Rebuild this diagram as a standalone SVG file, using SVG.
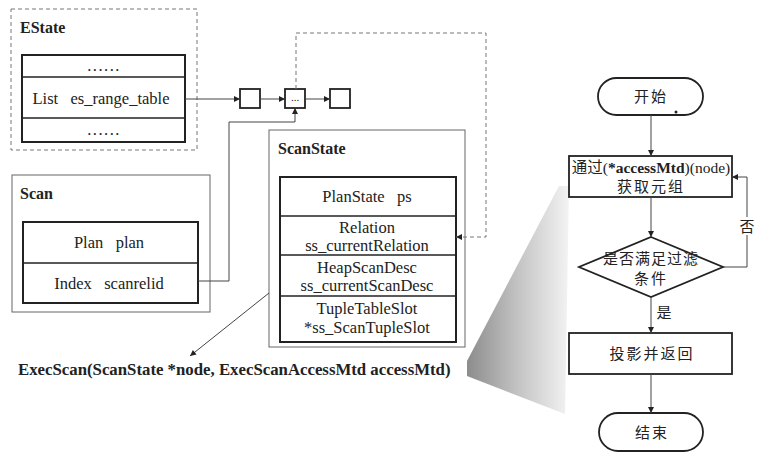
<svg xmlns="http://www.w3.org/2000/svg" width="758" height="461" viewBox="0 0 758 461">
<defs>
<marker id="arr" viewBox="0 0 10 10" refX="10" refY="5" markerWidth="8" markerHeight="6" markerUnits="userSpaceOnUse" orient="auto"><path d="M0,0 L10,5 L0,10 z" fill="#222"/></marker>
<linearGradient id="wedge" x1="467" y1="0" x2="570" y2="0" gradientUnits="userSpaceOnUse">
<stop offset="0" stop-color="#8c8c8c"/><stop offset="0.5" stop-color="#c4c4c4"/><stop offset="1" stop-color="#f4f4f4"/></linearGradient>
<style>
text{font-family:"Liberation Serif","Noto Sans CJK SC",serif;fill:#222;white-space:pre;}
.t{font-size:16.5px;text-anchor:middle;}
.dots{font-size:16.5px;text-anchor:middle;letter-spacing:1.5px;}
.h{font-size:16px;font-weight:bold;}
.c{font-size:15px;text-anchor:middle;letter-spacing:2px;}
.tbl{fill:none;stroke:#222;stroke-width:2;}
.row{stroke:#222;stroke-width:1.5;}
.outer{fill:#fff;stroke:#666;stroke-width:1;}
.dash{fill:none;stroke:#777;stroke-width:1;stroke-dasharray:4,3;}
.ln{fill:none;stroke:#444;stroke-width:1;}
.fb{fill:#fff;stroke:#222;stroke-width:1.8;}
</style>
</defs>
<rect width="758" height="461" fill="#fff"/>
<polygon points="559,186 467,361 467,376 565,414 569,186" fill="url(#wedge)"/>

<g id="estate">
<rect x="11" y="9" width="186" height="141" class="dash"/>
<text x="20" y="33" class="h">EState</text>
<rect x="22" y="55" width="163" height="87" class="tbl"/>
<line x1="22" y1="77" x2="185" y2="77" class="row"/>
<line x1="22" y1="118" x2="185" y2="118" class="row"/>
<text x="104" y="71" class="dots">......</text>
<text x="101" y="104" class="t">List   es_range_table</text>
<text x="104" y="135" class="dots">......</text>
</g>

<g id="list1"><rect x="240" y="89" width="20" height="19" fill="#fff" stroke="#222" stroke-width="1.8"/></g>
<g id="list2"><rect x="285" y="89" width="20" height="19" fill="#fff" stroke="#222" stroke-width="1.8"/><text x="295" y="101" class="t" style="font-size:11px">...</text></g>
<g id="list3"><rect x="330" y="89" width="20" height="19" fill="#fff" stroke="#222" stroke-width="1.8"/></g>

<g id="scan">
<rect x="12" y="175" width="198" height="137" class="outer"/>
<text x="20" y="199" class="h">Scan</text>
<rect x="23" y="222" width="175" height="81" class="tbl"/>
<line x1="23" y1="263" x2="198" y2="263" class="row"/>
<text x="109" y="248" class="t">Plan   plan</text>
<text x="109" y="289" class="t">Index   scanrelid</text>
</g>

<g id="scanstate">
<rect x="269" y="130" width="196" height="217" class="outer"/>
<text x="278" y="154" class="h">ScanState</text>
<rect x="280" y="177" width="176" height="165" class="tbl"/>
<line x1="280" y1="216" x2="456" y2="216" class="row"/>
<line x1="280" y1="255" x2="456" y2="255" class="row"/>
<line x1="280" y1="296" x2="456" y2="296" class="row"/>
<text x="367" y="202" class="t">PlanState   ps</text>
<text x="367" y="233" class="t">Relation</text>
<text x="367" y="251" class="t">ss_currentRelation</text>
<text x="367" y="273" class="t">HeapScanDesc</text>
<text x="367" y="291" class="t">ss_currentScanDesc</text>
<text x="367" y="314" class="t">TupleTableSlot</text>
<text x="367" y="333" class="t">*ss_ScanTupleSlot</text>
</g>

<g id="execscan">
<text x="18" y="375" style="font-size:16.8px;font-weight:bold">ExecScan(ScanState *node, ExecScanAccessMtd accessMtd)</text>
</g>

<g id="start">
<rect x="598" y="78" width="105" height="37" rx="18.5" class="fb"/>
<text x="651" y="102" class="c">开始</text>
<circle cx="676" cy="112" r="1.5" fill="#222"/>
</g>
<g id="fetch">
<rect x="569" y="156" width="163" height="41" class="fb"/>
<text x="651" y="173" style="font-size:15.5px;text-anchor:middle">通过(<tspan font-weight="bold">*accessMtd</tspan>)(node)</text>
<text x="651" y="192" class="c">获取元组</text>
</g>
<g id="filter">
<polygon points="651,237 723,267 651,297 579,267" class="fb"/>
<text x="651" y="264" class="c" style="letter-spacing:1px">是否满足过滤</text>
<text x="651" y="284" class="c">条件</text>
</g>
<g id="project">
<rect x="569" y="333" width="163" height="41" class="fb"/>
<text x="652" y="359" class="c">投影并返回</text>
</g>
<g id="end">
<rect x="599" y="413" width="104" height="38" rx="19" class="fb"/>
<text x="652" y="438" class="c">结束</text>
</g>

<g id="connectors">
<line x1="185" y1="99" x2="240" y2="99" class="ln" marker-end="url(#arr)"/>
<line x1="260" y1="99" x2="285" y2="99" class="ln" marker-end="url(#arr)"/>
<line x1="305" y1="99" x2="330" y2="99" class="ln" marker-end="url(#arr)"/>
<polyline points="296,89 296,33 486,33 486,237 456,237" class="dash" marker-end="url(#arr)"/>
<polyline points="198,281 229,281 229,122 295,122 295,108" class="ln" marker-end="url(#arr)"/>
<line x1="269" y1="293" x2="190" y2="356" class="ln" marker-end="url(#arr)"/>
<line x1="651" y1="115" x2="651" y2="156" class="ln" marker-end="url(#arr)"/>
<line x1="651" y1="197" x2="651" y2="237" class="ln" marker-end="url(#arr)"/>
<line x1="651" y1="297" x2="651" y2="333" class="ln" marker-end="url(#arr)"/>
<line x1="651" y1="374" x2="651" y2="413" class="ln" marker-end="url(#arr)"/>
<polyline points="723,267 747,267 747,177 732,177" class="ln" marker-end="url(#arr)"/>
<rect x="739" y="217" width="16" height="18" fill="#fff"/>
<text x="747" y="232" class="c" style="letter-spacing:0">否</text>
<text x="664" y="318" class="c" style="letter-spacing:0">是</text>
</g>
</svg>
